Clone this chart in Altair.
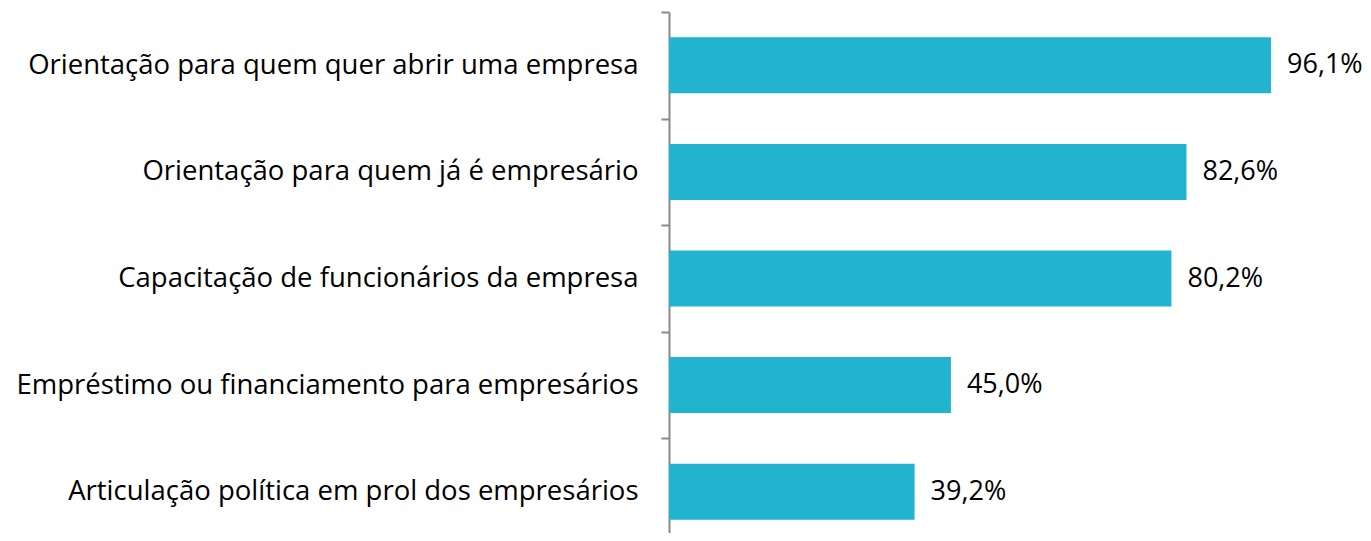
import altair as alt
import pandas as pd

categories = [
    "Orientação para quem quer abrir uma empresa",
    "Orientação para quem já é empresário",
    "Capacitação de funcionários da empresa",
    "Empréstimo ou financiamento para empresários",
    "Articulação política em prol dos empresários",
]
values = [96.1, 82.6, 80.2, 45.0, 39.2]
value_labels = ["96,1%", "82,6%", "80,2%", "45,0%", "39,2%"]

df = pd.DataFrame({"cat": categories, "val": values, "lab": value_labels})

FONT = "Open Sans"
FS = 27.5

y = alt.Y(
    "cat:N",
    sort=categories,
    title=None,
    scale=alt.Scale(range=[0, 533], paddingInner=0, paddingOuter=0),
    axis=alt.Axis(
        domainColor="#898989",
        domainWidth=2,
        tickColor="#898989",
        tickWidth=2,
        tickSize=8,
        tickBand="extent",
        grid=False,
        labelFont=FONT,
        labelFontSize=FS,
        labelColor="#000000",
        labelPadding=23,
        labelLimit=700,
    ),
)
x = alt.X(
    "val:Q",
    title=None,
    scale=alt.Scale(domain=[0, 100], range=[0, 626.5], nice=False, zero=True),
    axis=None,
)

bars = alt.Chart(df).mark_bar(color="#22B4CF", size=56).encode(x=x, y=y)
text = alt.Chart(df).mark_text(
    align="left", baseline="middle", dx=16, font=FONT, fontSize=27, color="#000000"
).encode(x=x, y=y, text="lab:N")

chart = (
    alt.layer(bars, text, view=alt.ViewBackground(stroke="transparent", strokeWidth=0))
    .properties(
        width=626,
        height=521,
        autosize=alt.AutoSizeParams(type="none"),
        padding={"left": 661, "top": 4, "right": 68, "bottom": 0},
    )
    .configure_view(stroke="transparent", strokeWidth=0)
    .configure(background="white")
)

chart.save("out.html", embed_options={"renderer": "svg", "actions": False})
